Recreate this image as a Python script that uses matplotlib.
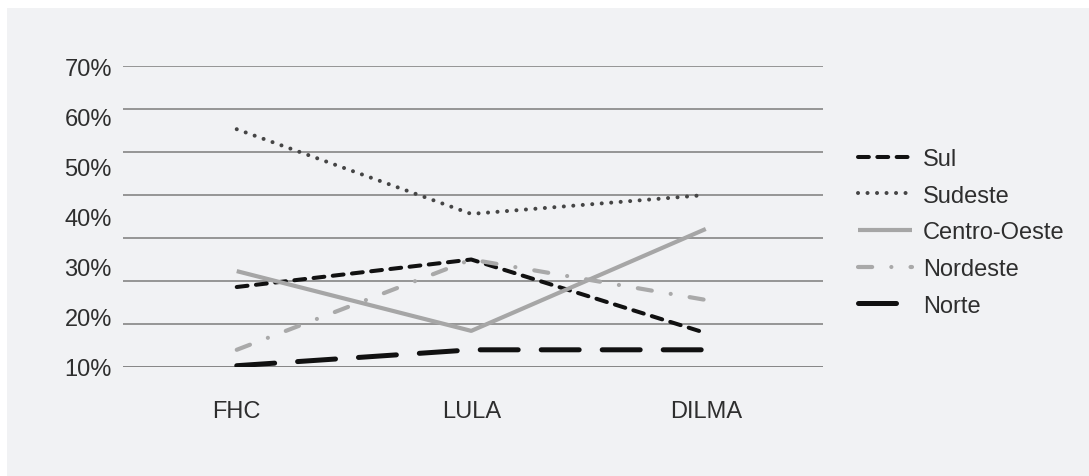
import matplotlib
matplotlib.use("Agg")
import matplotlib.pyplot as plt
from matplotlib.patches import Rectangle
import numpy as np

# Share of votes by region in each government (%)
governos = ["FHC", "LULA", "DILMA"]
sul = [18.6, 25.0, 7.9]
sudeste = [55.3, 35.6, 40.0]
centro_oeste = [22.3, 8.4, 32.1]
nordeste = [4.0, 25.0, 15.6]
norte = [0.3, 4.0, 4.0]

grid_values = [0, 10, 20, 30, 40, 50, 60, 70]
tick_labels = ["10%", "20%", "30%", "40%", "50%", "60%", "70%"]

plt.rcParams["font.family"] = ["Liberation Sans", "DejaVu Sans"]
TEXT = "#2e2e2e"
FS = 17

fig = plt.figure(figsize=(10.89, 4.77), dpi=100, facecolor="white")
fig.patches.append(Rectangle((7 / 1089, 0), 1, 1 - 9 / 477, transform=fig.transFigure,
                             facecolor="#f1f2f4", edgecolor="none", zorder=-10))

ax = fig.add_axes([123 / 1089, 109 / 477, 700 / 1089, 301 / 477])
ax.set_facecolor("none")

x = np.arange(len(governos))

series = [
    ("Sul", sul, dict(color="#111111", lw=2.9, ls=(0, (2.7, 2.1)))),
    ("Sudeste", sudeste, dict(color="#454545", lw=2.9, ls=(0, (0.01, 2.35)))),
    ("Centro-Oeste", centro_oeste, dict(color="#a6a6a6", lw=3.0, ls="-")),
    ("Nordeste", nordeste, dict(color="#a9a9a9", lw=3.0, ls=(0, (3.4, 4.6, 0.01, 4.6)))),
    ("Norte", norte, dict(color="#111111", lw=3.6, ls=(0, (7.6, 4.6)))),
]
for name, vals, st in series:
    ax.plot(x, vals, label=name, color=st["color"], linewidth=st["lw"],
            linestyle=st["ls"], dash_capstyle="round", solid_capstyle="butt", zorder=3)

for i, g in enumerate(grid_values):
    ax.axhline(g, color="#7d7d7d" if i == 0 else "#8e8e8e", lw=1.3, zorder=1)

ax.set_xlim(-0.485, 2.5)
ax.set_ylim(0, 70)
ax.set_xticks(x)
ax.set_xticklabels(governos)
ax.set_yticks(np.linspace(0, 70, len(tick_labels)))
ax.set_yticklabels(tick_labels)
ax.tick_params(axis="both", length=0, labelsize=FS, colors=TEXT)
ax.tick_params(axis="y", pad=8)
ax.tick_params(axis="x", pad=24)
for s in ax.spines.values():
    s.set_visible(False)

leg = ax.legend(loc="upper left", bbox_to_anchor=(858 / 1089, 1 - 149 / 477),
                bbox_transform=fig.transFigure, frameon=False, fontsize=FS,
                handlelength=2.3, handletextpad=0.45, labelspacing=0.62,
                borderpad=0, borderaxespad=0)
for t in leg.get_texts():
    t.set_color(TEXT)

fig.savefig("out.png", dpi=100, facecolor="white")
